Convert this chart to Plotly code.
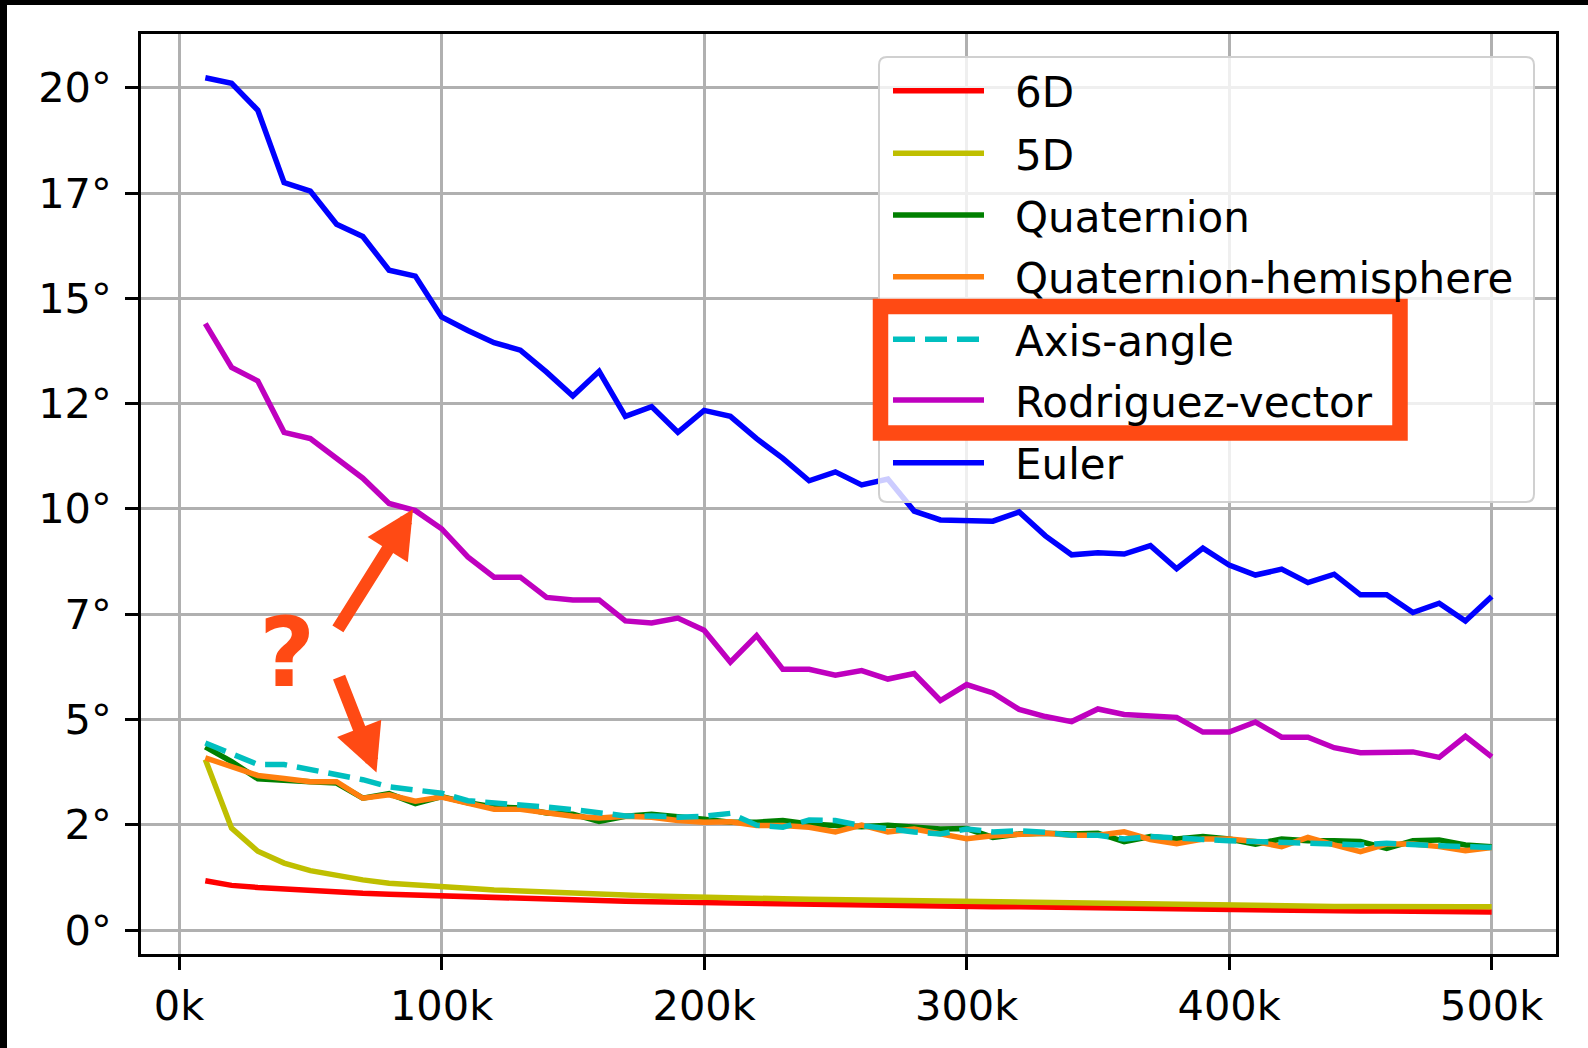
import plotly.graph_objects as go

# ---------------- data ----------------
steps_k = [10, 20, 30, 40, 50, 60, 70, 80, 90, 100,
           110, 120, 130, 140, 150, 160, 170, 180, 190, 200,
           210, 220, 230, 240, 250, 260, 270, 280, 290, 300,
           310, 320, 330, 340, 350, 360, 370, 380, 390, 400,
           410, 420, 430, 440, 450, 460, 470, 480, 490, 500]

err_6d = [1.17, 1.06, 1.01, 0.97, 0.94, 0.90, 0.87, 0.85, 0.83, 0.79,
          0.78, 0.76, 0.74, 0.73, 0.71, 0.70, 0.68, 0.67, 0.66, 0.64,
          0.62, 0.61, 0.61, 0.60, 0.59, 0.58, 0.58, 0.57, 0.57, 0.56,
          0.55, 0.55, 0.54, 0.53, 0.53, 0.52, 0.51, 0.50, 0.49, 0.48,
          0.48, 0.47, 0.47, 0.46, 0.45, 0.45, 0.44, 0.44, 0.43, 0.43]

err_5d = [4.05, 2.42, 1.87, 1.59, 1.41, 1.29, 1.19, 1.11, 1.06, 1.03,
          0.99, 0.95, 0.92, 0.89, 0.87, 0.85, 0.83, 0.81, 0.79, 0.78,
          0.77, 0.76, 0.74, 0.73, 0.72, 0.71, 0.70, 0.69, 0.68, 0.67,
          0.66, 0.65, 0.64, 0.63, 0.62, 0.61, 0.60, 0.59, 0.58, 0.58,
          0.57, 0.57, 0.56, 0.56, 0.56, 0.55, 0.55, 0.55, 0.55, 0.55]

err_quat = [4.35, 4.00, 3.59, 3.57, 3.52, 3.49, 3.13, 3.24, 3.00, 3.17,
            3.02, 2.92, 2.90, 2.78, 2.75, 2.58, 2.70, 2.75, 2.70, 2.63,
            2.56, 2.56, 2.60, 2.52, 2.48, 2.45, 2.49, 2.44, 2.40, 2.41,
            2.20, 2.28, 2.30, 2.28, 2.30, 2.10, 2.22, 2.16, 2.22, 2.16,
            2.04, 2.16, 2.12, 2.12, 2.10, 1.94, 2.12, 2.14, 2.02, 1.98]

err_quat_hemi = [4.09, 3.89, 3.67, 3.60, 3.52, 3.52, 3.13, 3.21, 3.06, 3.16,
                 3.00, 2.87, 2.87, 2.79, 2.70, 2.66, 2.70, 2.68, 2.60, 2.56,
                 2.57, 2.48, 2.48, 2.44, 2.33, 2.49, 2.33, 2.40, 2.30, 2.17,
                 2.24, 2.28, 2.30, 2.25, 2.25, 2.33, 2.15, 2.05, 2.16, 2.16,
                 2.10, 1.98, 2.20, 2.02, 1.86, 2.04, 2.04, 1.98, 1.88, 1.96]

err_axis_angle = [4.44, 4.17, 3.93, 3.93, 3.81, 3.71, 3.57, 3.40, 3.33, 3.25,
                  3.07, 3.03, 2.99, 2.92, 2.86, 2.79, 2.71, 2.71, 2.68, 2.70,
                  2.77, 2.49, 2.44, 2.61, 2.60, 2.48, 2.40, 2.33, 2.28, 2.40,
                  2.33, 2.36, 2.32, 2.25, 2.25, 2.16, 2.22, 2.17, 2.15, 2.12,
                  2.10, 2.08, 2.06, 2.04, 2.02, 2.06, 2.02, 2.00, 1.98, 1.96]

err_rodriguez = [14.40, 13.36, 13.04, 11.82, 11.67, 11.19, 10.73, 10.13, 9.96, 9.53,
                 8.86, 8.38, 8.38, 7.90, 7.84, 7.84, 7.34, 7.29, 7.41, 7.12,
                 6.36, 6.99, 6.19, 6.19, 6.05, 6.16, 5.96, 6.09, 5.45, 5.83,
                 5.63, 5.24, 5.07, 4.95, 5.25, 5.12, 5.08, 5.05, 4.70, 4.70,
                 4.94, 4.58, 4.58, 4.33, 4.21, 4.23, 4.23, 4.10, 4.60, 4.11]

err_euler = [20.24, 20.11, 19.47, 17.75, 17.55, 16.76, 16.47, 15.67, 15.53, 14.56,
             14.24, 13.95, 13.77, 13.25, 12.68, 13.27, 12.20, 12.43, 11.82, 12.34,
             12.20, 11.67, 11.20, 10.67, 10.88, 10.57, 10.71, 9.95, 9.74, 9.72,
             9.71, 9.93, 9.36, 8.91, 8.96, 8.93, 9.13, 8.58, 9.07, 8.67,
             8.43, 8.57, 8.25, 8.45, 7.96, 7.96, 7.54, 7.76, 7.34, 7.92]

series_names = ["6D", "5D", "Quaternion", "Quaternion-hemisphere",
                "Axis-angle", "Rodriguez-vector", "Euler"]
series_values = [err_6d, err_5d, err_quat, err_quat_hemi,
                 err_axis_angle, err_rodriguez, err_euler]
series_colors = ["#FF0000", "#BFBF00", "#008000", "#FF7F0E",
                 "#00BFBF", "#BF00BF", "#0000FF"]
series_dash = ["solid", "solid", "solid", "solid", "22px,10px", "solid", "solid"]

x_tick_vals = [0, 100, 200, 300, 400, 500]
x_tick_text = ["0k", "100k", "200k", "300k", "400k", "500k"]
y_tick_vals = [0, 2.5, 5, 7.5, 10, 12.5, 15, 17.5, 20]
y_tick_text = ["0°", "2°", "5°", "7°", "10°", "12°", "15°", "17°", "20°"]

# highlighted annotation targets (data coords)
arrow_targets = [(89.1, 9.99), (75.2, 3.74)]
arrow_tails_px = [(-76, 121), (-38, -97)]

# ---------------- layout geometry ----------------
W, H = 1588, 1048
L, R, T, B = 141, 32, 34, 94
PW = W - L - R
PH = H - T - B
BOTTOM_PX = H - B

def px_x(px):
    return (px - L) / PW

def px_y(py):
    return (BOTTOM_PX - py) / PH

ACCENT = "#FF4A14"
FONT = "DejaVu Sans"
LW = 5.5

fig = go.Figure()
for name, vals, col, dash in zip(series_names, series_values, series_colors, series_dash):
    fig.add_trace(go.Scatter(x=steps_k, y=vals, mode="lines", name=name,
                             line=dict(color=col, width=LW, dash=dash),
                             showlegend=False))

shapes = []
# black strips at top and left edge of the picture (screenshot frame)
shapes.append(dict(type="rect", xref="paper", yref="paper",
                   x0=px_x(-20), x1=px_x(W + 20), y0=px_y(5), y1=px_y(-20),
                   fillcolor="black", line=dict(width=0), layer="below"))
shapes.append(dict(type="rect", xref="paper", yref="paper",
                   x0=px_x(-20), x1=px_x(7), y0=px_y(H + 20), y1=px_y(-20),
                   fillcolor="black", line=dict(width=0), layer="below"))

# legend box with rounded corners
lx0, lx1, ly0, ly1 = px_x(879), px_x(1534), px_y(502), px_y(57)
rx, ry = 8 / PW, 8 / PH
path = (f"M{lx0 + rx},{ly1} L{lx1 - rx},{ly1} Q{lx1},{ly1} {lx1},{ly1 - ry} "
        f"L{lx1},{ly0 + ry} Q{lx1},{ly0} {lx1 - rx},{ly0} L{lx0 + rx},{ly0} "
        f"Q{lx0},{ly0} {lx0},{ly0 + ry} L{lx0},{ly1 - ry} Q{lx0},{ly1} {lx0 + rx},{ly1} Z")
shapes.append(dict(type="path", xref="paper", yref="paper", path=path,
                   fillcolor="rgba(255,255,255,0.8)",
                   line=dict(color="#d0d0d0", width=2), layer="above"))

# red highlight box
shapes.append(dict(type="rect", xref="paper", yref="paper",
                   x0=px_x(880.5), x1=px_x(1400), y0=px_y(433), y1=px_y(306.5),
                   fillcolor="white", line=dict(color=ACCENT, width=15.5),
                   layer="above"))

annotations = []
row_y = [90.7, 153.3, 215, 276.7, 339.3, 400, 462.7]
for name, col, dash, ry_px in zip(series_names, series_colors, series_dash, row_y):
    shapes.append(dict(type="line", xref="paper", yref="paper",
                       x0=px_x(893), x1=px_x(984), y0=px_y(ry_px), y1=px_y(ry_px),
                       line=dict(color=col, width=LW, dash=dash), layer="above"))
    annotations.append(dict(xref="paper", yref="paper", x=px_x(1013), y=px_y(ry_px + 2),
                            xanchor="left", yanchor="middle", text=name,
                            showarrow=False,
                            font=dict(family=FONT, size=42, color="black")))

# question mark + arrows
annotations.append(dict(xref="paper", yref="paper", x=px_x(287), y=px_y(652),
                        xanchor="center", yanchor="middle", text="<b>?</b>",
                        showarrow=False,
                        font=dict(family=FONT, size=97, color=ACCENT)))
for (tx, ty), (ax, ay) in zip(arrow_targets, arrow_tails_px):
    annotations.append(dict(xref="x", yref="y", x=tx, y=ty, ax=ax, ay=ay,
                            text="", showarrow=True, arrowhead=2,
                            arrowsize=0.73, arrowwidth=13, arrowcolor=ACCENT,
                            standoff=0))

axis_common = dict(showgrid=True, gridcolor="#b0b0b0", gridwidth=2.5, zeroline=False,
                   showline=True, linecolor="black", linewidth=3, mirror=True,
                   ticks="outside", ticklen=13, tickwidth=3, tickcolor="black",
                   tickfont=dict(family=FONT, size=41.5, color="black"))

fig.update_layout(
    width=W, height=H,
    margin=dict(l=L, r=R, t=T, b=B, pad=0),
    paper_bgcolor="white", plot_bgcolor="white",
    showlegend=False,
    shapes=shapes, annotations=annotations,
    font=dict(family=FONT, size=41.5, color="black"),
    xaxis=dict(range=[-14.5, 524.5], tickvals=x_tick_vals, ticktext=x_tick_text,
               **axis_common),
    yaxis=dict(range=[-0.57, 21.28], tickvals=y_tick_vals, ticktext=y_tick_text,
               ticklabelstandoff=5, **axis_common),
)

fig.write_html(
    "out.html",
    config={"displayModeBar": False},
    post_script="document.documentElement.style.margin='0';"
                "document.body.style.margin='0';"
                "document.body.style.overflow='hidden';"
                "document.documentElement.style.overflow='hidden';",
)
